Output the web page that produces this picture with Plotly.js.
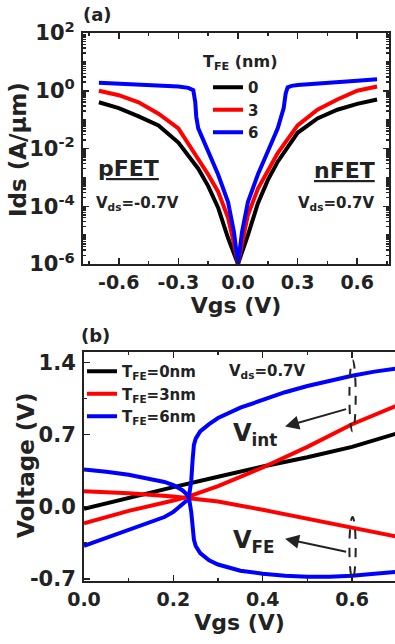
<!DOCTYPE html>
<html>
<head>
<meta charset="utf-8">
<script src="https://cdn.plot.ly/plotly-3.0.1.min.js"></script>
<style>html,body{margin:0;padding:0;background:#fff;}#chart{width:395px;height:644px;}</style>
</head>
<body>
<div id="chart"></div>
<script>
// ---------- Panel (a): Ids vs Vgs (log) ----------
const vgsA0 = [-0.7,-0.6,-0.5,-0.4,-0.3,-0.2,-0.15,-0.1,-0.05,0,0.05,0.1,0.15,0.2,0.3,0.4,0.5,0.6,0.7];
const idsA0 = [0.4,0.25,0.13,0.063,0.016,2e-3,5e-4,8.9e-5,7.9e-6,1e-6,1e-5,1.26e-4,8e-4,3.5e-3,3.5e-2,0.11,0.22,0.35,0.5];
const vgsA3 = [-0.7,-0.6,-0.5,-0.4,-0.3,-0.2,-0.15,-0.1,-0.05,-0.02,0,0.02,0.05,0.1,0.15,0.2,0.3,0.4,0.5,0.6,0.7];
const idsA3 = [1.0,0.7,0.4,0.16,0.05,4.5e-3,1.26e-3,3.2e-4,4e-5,5e-6,1e-6,5e-6,5e-5,4e-4,1.8e-3,7e-3,6.3e-2,0.22,0.5,1.0,1.4];
const vgsA6 = [-0.7,-0.6,-0.5,-0.4,-0.3,-0.25,-0.225,-0.215,-0.21,-0.2,-0.15,-0.1,-0.05,-0.02,0,0.02,0.05,0.1,0.15,0.2,0.23,0.24,0.25,0.27,0.3,0.4,0.5,0.6,0.7];
const idsA6 = [1.9,1.78,1.66,1.55,1.41,1.26,1.05,0.4,0.126,0.05,7.9e-3,1.26e-3,1.4e-4,1.26e-5,1e-6,1.26e-5,1.4e-4,1.26e-3,7.9e-3,0.05,0.25,0.8,1.32,1.48,1.58,1.82,2.0,2.24,2.5];
const legendA = ["0","3","6"];
const legendTitleA = "T<sub>FE</sub> (nm)";
const yTickValsA = [1e-6,1e-4,1e-2,1,1e2];
const yTickTextA = ["10<sup>-6</sup>","10<sup>-4</sup>","10<sup>-2</sup>","10<sup>0</sup>","10<sup>2</sup>"];
const xTickValsA = [-0.6,-0.3,0,0.3,0.6];
const xTickTextA = ["-0.6","-0.3","0.0","0.3","0.6"];

// ---------- Panel (b): Voltage vs Vgs ----------
const vgsB0 = [0,0.1,0.2,0.3,0.4,0.5,0.6,0.7];
const vint0 = [-0.02,0.09,0.19,0.29,0.39,0.48,0.58,0.71];
const vgsB3 = [0,0.1,0.2,0.235,0.3,0.4,0.5,0.6,0.7];
const vint3 = [-0.16,-0.04,0.06,0.1,0.2,0.38,0.58,0.8,0.98];
const vfe3  = [0.15,0.13,0.1,0.08,0.05,-0.03,-0.12,-0.21,-0.29];
const vgsB6 = [0,0.05,0.1,0.15,0.18,0.2,0.22,0.23,0.235,0.24,0.243,0.246,0.25,0.26,0.28,0.3,0.35,0.4,0.45,0.5,0.55,0.6,0.65,0.7];
const vint6 = [-0.38,-0.3,-0.23,-0.15,-0.1,-0.05,0.02,0.06,0.1,0.25,0.45,0.6,0.66,0.73,0.8,0.86,0.96,1.04,1.11,1.17,1.22,1.27,1.31,1.34];
const vfe6  = [0.36,0.34,0.31,0.27,0.24,0.21,0.16,0.12,0.08,-0.05,-0.2,-0.32,-0.38,-0.45,-0.52,-0.56,-0.62,-0.65,-0.67,-0.68,-0.68,-0.67,-0.65,-0.63];
const legendB = ["T<sub>FE</sub>=0nm","T<sub>FE</sub>=3nm","T<sub>FE</sub>=6nm"];
const xTickValsB = [0,0.2,0.4,0.6];
const xTickTextB = ["0.0","0.2","0.4","0.6"];
const yTickValsB = [-0.7,0,0.7,1.4];
const yTickTextB = ["-0.7","0.0","0.7","1.4"];

const colors = ["#000000","#ff0000","#0000ff"];
const FONT = "DejaVu Sans, Liberation Sans, Arial, sans-serif";
const LW = 4;
const TXT = '#222';
function f(size){ return {family:FONT,size:size,color:TXT,weight:'bold'}; }
function note(px, py, text, size, xa, extra){
  return Object.assign({xref:'paper',yref:'paper',x:px/395,y:1-py/644,text:text,showarrow:false,
    xanchor:xa||'center',yanchor:'middle',font:f(size)}, extra||{});
}

const traces = [
  {x:vgsA0,y:idsA0,xaxis:'x',yaxis:'y',mode:'lines',line:{color:colors[0],width:LW},name:legendA[0],legend:'legend'},
  {x:vgsA3,y:idsA3,xaxis:'x',yaxis:'y',mode:'lines',line:{color:colors[1],width:LW},name:legendA[1],legend:'legend'},
  {x:vgsA6,y:idsA6,xaxis:'x',yaxis:'y',mode:'lines',line:{color:colors[2],width:LW},name:legendA[2],legend:'legend'},
  {x:vgsB0,y:vint0,xaxis:'x2',yaxis:'y2',mode:'lines',line:{color:colors[0],width:LW},name:legendB[0],legend:'legend2'},
  {x:vgsB3,y:vint3,xaxis:'x2',yaxis:'y2',mode:'lines',line:{color:colors[1],width:LW},name:legendB[1],legend:'legend2'},
  {x:vgsB6,y:vint6,xaxis:'x2',yaxis:'y2',mode:'lines',line:{color:colors[2],width:LW},name:legendB[2],legend:'legend2'},
  {x:vgsB3,y:vfe3,xaxis:'x2',yaxis:'y2',mode:'lines',line:{color:colors[1],width:LW},showlegend:false},
  {x:vgsB6,y:vfe6,xaxis:'x2',yaxis:'y2',mode:'lines',line:{color:colors[2],width:LW},showlegend:false}
];

const axCommon = {showline:true,linecolor:TXT,linewidth:2,ticks:'inside',ticklen:6,tickwidth:1.5,tickcolor:TXT,
  showgrid:false,zeroline:false,fixedrange:true};

const layout = {
  width:395,height:644,margin:{l:0,r:0,t:0,b:0},paper_bgcolor:'#fff',plot_bgcolor:'#fff',
  font:{family:FONT,color:TXT},
  xaxis:Object.assign({},axCommon,{domain:[83/395,389/395],anchor:'y',range:[-0.78,0.76],
    tickvals:xTickValsA,ticktext:xTickTextA,mirror:'ticks',ticklabelstandoff:0,tickfont:f(19),
    minor:{ticks:'inside',ticklen:3,tickvals:[-0.75,-0.45,-0.15,0.15,0.45,0.75],tickcolor:TXT},
    title:{text:'Vgs (V)',font:f(22),standoff:0}}),
  yaxis:Object.assign({},axCommon,{domain:[1-264/644,1-33/644],anchor:'x',type:'log',range:[-6,2],
    tickvals:yTickValsA,ticktext:yTickTextA,mirror:'ticks',ticklabelstandoff:2,tickfont:f(21),
    minor:{ticks:'inside',ticklen:3,dtick:'D1',tickcolor:TXT}}),
  xaxis2:Object.assign({},axCommon,{domain:[84/395,1],anchor:'y2',range:[0,0.696],
    tickvals:xTickValsB,ticktext:xTickTextB,mirror:'ticks',ticklabelstandoff:0,tickfont:f(19),
    minor:{ticks:'inside',ticklen:3,dtick:0.1,tickcolor:TXT},
    title:{text:'Vgs (V)',font:f(22),standoff:5}}),
  yaxis2:Object.assign({},axCommon,{domain:[1-581/644,1-352/644],anchor:'x2',range:[-0.72,1.5],
    tickvals:yTickValsB,ticktext:yTickTextB,mirror:false,ticklabelstandoff:2,tickfont:f(21),
    minor:{ticks:'inside',ticklen:3,dtick:0.35,tick0:0,tickcolor:TXT}}),
  legend:{x:208/395,y:1-71/644,xanchor:'left',yanchor:'top',bgcolor:'rgba(0,0,0,0)',
    font:f(15),tracegroupgap:0},
  legend2:{x:82/395,y:1-355/644,xanchor:'left',yanchor:'top',bgcolor:'rgba(0,0,0,0)',
    font:f(15),tracegroupgap:0},
  annotations:[
    note(18,150,'Ids (A/μm)',23,'center',{textangle:-90}),
    note(26,465,'Voltage (V)',23,'center',{textangle:-90}),
    note(240,63,legendTitleA,16),
    note(81,15,'(a)',18,'left'),
    note(79,335,'(b)',18,'left'),
    note(96,168,'<u>pFET</u>',22,'left'),
    note(94,203,'V<sub>ds</sub>=-0.7V',15,'left'),
    note(312,170,'<u>nFET</u>',22,'left'),
    note(296,203,'V<sub>ds</sub>=0.7V',15,'left'),
    note(227,371,'V<sub>ds</sub>=0.7V',15,'left'),
    note(231,434,'V<sub>int</sub>',24,'left'),
    note(231,541,'V<sub>FE</sub>',24,'left'),
    {xref:'x2',yref:'y2',x:0.45,y:0.777,axref:'x2',ayref:'y2',ax:0.59,ay:0.95,text:'',showarrow:true,arrowhead:2,arrowsize:1.4,arrowwidth:2,arrowcolor:TXT},
    {xref:'x2',yref:'y2',x:0.45,y:-0.31,axref:'x2',ayref:'y2',ax:0.59,ay:-0.44,text:'',showarrow:true,arrowhead:2,arrowsize:1.4,arrowwidth:2,arrowcolor:TXT}
  ],
  shapes:[
    {type:'circle',xref:'x2',yref:'y2',x0:0.594,x1:0.608,y0:0.73,y1:1.42,line:{color:TXT,width:2,dash:'dash'}},
    {type:'circle',xref:'x2',yref:'y2',x0:0.594,x1:0.608,y0:-0.7,y1:-0.1,line:{color:TXT,width:2,dash:'dash'}}
  ],
  showlegend:true
};

Plotly.newPlot('chart',traces,layout,{staticPlot:true,displayModeBar:false});
</script>
</body>
</html>
